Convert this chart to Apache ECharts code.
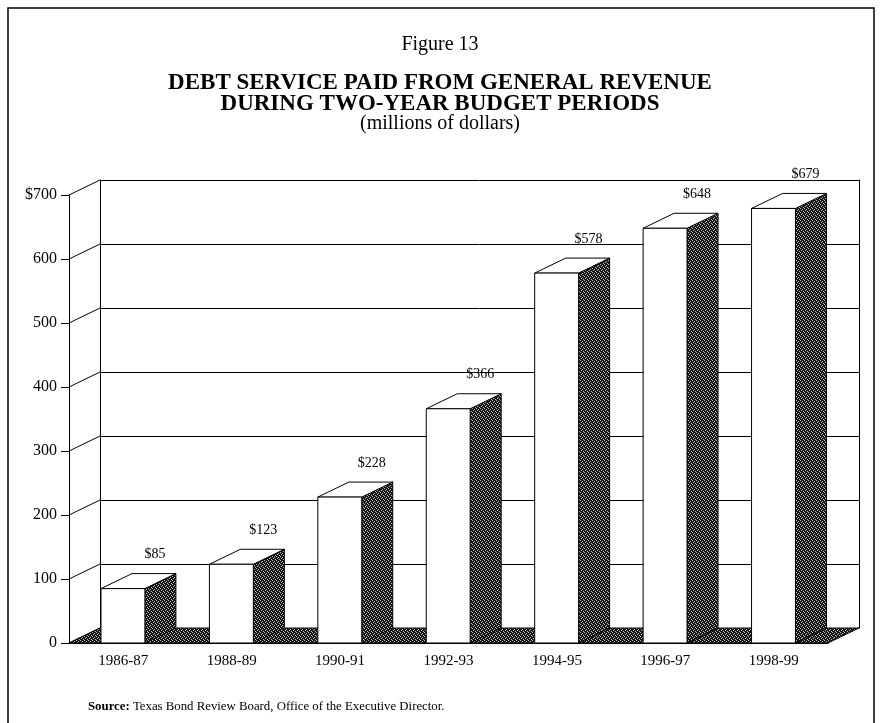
<!DOCTYPE html>
<html>
<head>
<meta charset="utf-8">
<script src="https://cdn.jsdelivr.net/npm/echarts@6/dist/echarts.min.js"></script>
<style>html,body{margin:0;padding:0;background:#fff;}#chart{width:880px;height:723px;}</style>
</head>
<body>
<div id="chart"></div>
<script>
// ---- data ----
const categories = ['1986-87', '1988-89', '1990-91', '1992-93', '1994-95', '1996-97', '1998-99'];
const debtService = [85, 123, 228, 366, 578, 648, 679];
const valueLabels = ['$85', '$123', '$228', '$366', '$578', '$648', '$679'];
const yTickValues = [0, 100, 200, 300, 400, 500, 600, 700];
const yTickLabels = ['0', '100', '200', '300', '400', '500', '600', '$700'];

// ---- style constants ----
const DX = 31, DY = -15;
const SERIF = '"Liberation Serif", "DejaVu Serif", serif';

function makePattern() {
  const c = document.createElement('canvas');
  c.width = 4; c.height = 4;
  const ctx = c.getContext('2d');
  ctx.fillStyle = '#161616';
  ctx.fillRect(0, 0, 4, 4);
  ctx.fillStyle = '#bdbdbd';
  [[0, 0], [2, 1], [1, 2], [3, 3]].forEach(p => ctx.fillRect(p[0], p[1], 1, 1));
  return c;
}
const darkFill = { image: makePattern(), repeat: 'repeat' };

const GL = 69, GT = 195, GW = 759, GH = 448;

const chart = echarts.init(document.getElementById('chart'), null, { renderer: 'canvas' });

const boldTitle = { fontFamily: SERIF, fontSize: 23, fontWeight: 'bold', color: '#000' };
const option = {
  backgroundColor: '#fff',
  animation: false,
  title: [
    { text: 'Figure 13', left: 'center', top: 35, padding: 0,
      textStyle: { fontFamily: SERIF, fontSize: 20, fontWeight: 'normal', color: '#000' } },
    { text: 'DEBT SERVICE PAID FROM GENERAL REVENUE', left: 'center', top: 72, padding: 0, textStyle: boldTitle },
    { text: 'DURING TWO-YEAR BUDGET PERIODS', left: 'center', top: 93, padding: 0, textStyle: boldTitle },
    { text: '(millions of dollars)', left: 'center', top: 114, padding: 0,
      textStyle: { fontFamily: SERIF, fontSize: 20, fontWeight: 'normal', color: '#000' } }
  ],
  grid: [
    { left: GL, top: GT, width: GW, height: GH },
    { left: GL + DX, top: GT + DY, width: GW, height: GH }
  ],
  xAxis: [
    { type: 'category', gridIndex: 0, data: categories, z: 10,
      axisLine: { lineStyle: { color: '#000', width: 1 } },
      axisTick: { length: 7, lineStyle: { color: '#000' } },
      axisLabel: { color: '#000', fontFamily: SERIF, fontSize: 15, margin: 11 } },
    { type: 'value', gridIndex: 1, show: false, min: 0, max: 1 }
  ],
  yAxis: [
    { type: 'value', gridIndex: 0, min: 0, max: 700, interval: 100, z: 10,
      axisLine: { show: true, lineStyle: { color: '#000', width: 1 } },
      axisTick: { show: true, length: 8, lineStyle: { color: '#000' } },
      splitLine: { show: false },
      axisLabel: { color: '#000', fontFamily: SERIF, fontSize: 16, margin: 12,
        formatter: v => yTickLabels[yTickValues.indexOf(v)] } },
    { type: 'value', gridIndex: 1, min: 0, max: 700, interval: 100, position: 'left',
      axisLine: { show: true, lineStyle: { color: '#000', width: 1 } },
      axisTick: { show: false }, axisLabel: { show: false },
      splitLine: { show: true, lineStyle: { color: '#000', width: 1 } } },
    { type: 'value', gridIndex: 1, min: 0, max: 700, interval: 100, position: 'right',
      axisLine: { show: true, onZero: false, lineStyle: { color: '#000', width: 1 } },
      axisTick: { show: false }, axisLabel: { show: false }, splitLine: { show: false } }
  ],
  series: [
    { // left wall diagonals
      type: 'custom', xAxisIndex: 0, yAxisIndex: 0, z: 2,
      data: yTickValues.map(v => [0, v]),
      renderItem: function (params, api) {
        const x0 = params.coordSys.x;
        const y = api.coord([0, api.value(1)])[1];
        return { type: 'line', shape: { x1: x0, y1: y, x2: x0 + DX, y2: y + DY },
          style: { stroke: '#000', lineWidth: 1 } };
      }
    },
    { // floor
      type: 'custom', xAxisIndex: 0, yAxisIndex: 0, z: 3,
      data: [[0, 0]],
      renderItem: function (params, api) {
        const cs = params.coordSys;
        const y0 = api.coord([0, 0])[1];
        const x0 = cs.x, x1 = cs.x + cs.width;
        return { type: 'polygon',
          shape: { points: [[x0, y0], [x0 + DX, y0 + DY], [x1 + DX, y0 + DY], [x1, y0]] },
          style: { fill: darkFill, stroke: '#000', lineWidth: 1 } };
      }
    },
    { // 3D bars
      type: 'custom', xAxisIndex: 0, yAxisIndex: 0, z: 4,
      data: debtService.map((v, i) => [i, v]),
      renderItem: function (params, api) {
        const i = api.value(0), v = api.value(1);
        const base = api.coord([i, 0]);
        const top = api.coord([i, v]);
        const band = api.size([1, 0])[0];
        const start = base[0] - band / 2;
        const xl = start + band * 0.295, xr = start + band * 0.70;
        const y0 = base[1], y1 = top[1];
        return { type: 'group', children: [
          { type: 'polygon', shape: { points: [[xr, y0], [xr, y1], [xr + DX, y1 + DY], [xr + DX, y0 + DY]] },
            style: { fill: darkFill, stroke: '#000', lineWidth: 1 } },
          { type: 'polygon', shape: { points: [[xl, y1], [xr, y1], [xr + DX, y1 + DY], [xl + DX, y1 + DY]] },
            style: { fill: '#fff', stroke: '#000', lineWidth: 1 } },
          { type: 'rect', shape: { x: xl, y: y1, width: xr - xl, height: y0 - y1 },
            style: { fill: '#fff', stroke: '#000', lineWidth: 1 } },
          { type: 'text', style: { text: valueLabels[params.dataIndex], x: xr + 10, y: y1 + DY - 19,
            align: 'center', verticalAlign: 'middle', fill: '#000', font: '14px ' + SERIF } }
        ] };
      }
    }
  ],
  graphic: [
    { type: 'polyline', z: 100, shape: { points: [[8, 723], [8, 8], [874, 8], [874, 723]] },
      style: { stroke: '#000', lineWidth: 1.5, fill: null } },
    { type: 'text', left: 88, top: 700, z: 100,
      style: { text: '{b|Source:} Texas Bond Review Board, Office of the Executive Director.',
        font: '12.8px ' + SERIF, fill: '#000',
        rich: { b: { fontWeight: 'bold', fontFamily: SERIF, fontSize: 12.8, fill: '#000' } } } }
  ]
};
chart.setOption(option);
</script>
</body>
</html>
